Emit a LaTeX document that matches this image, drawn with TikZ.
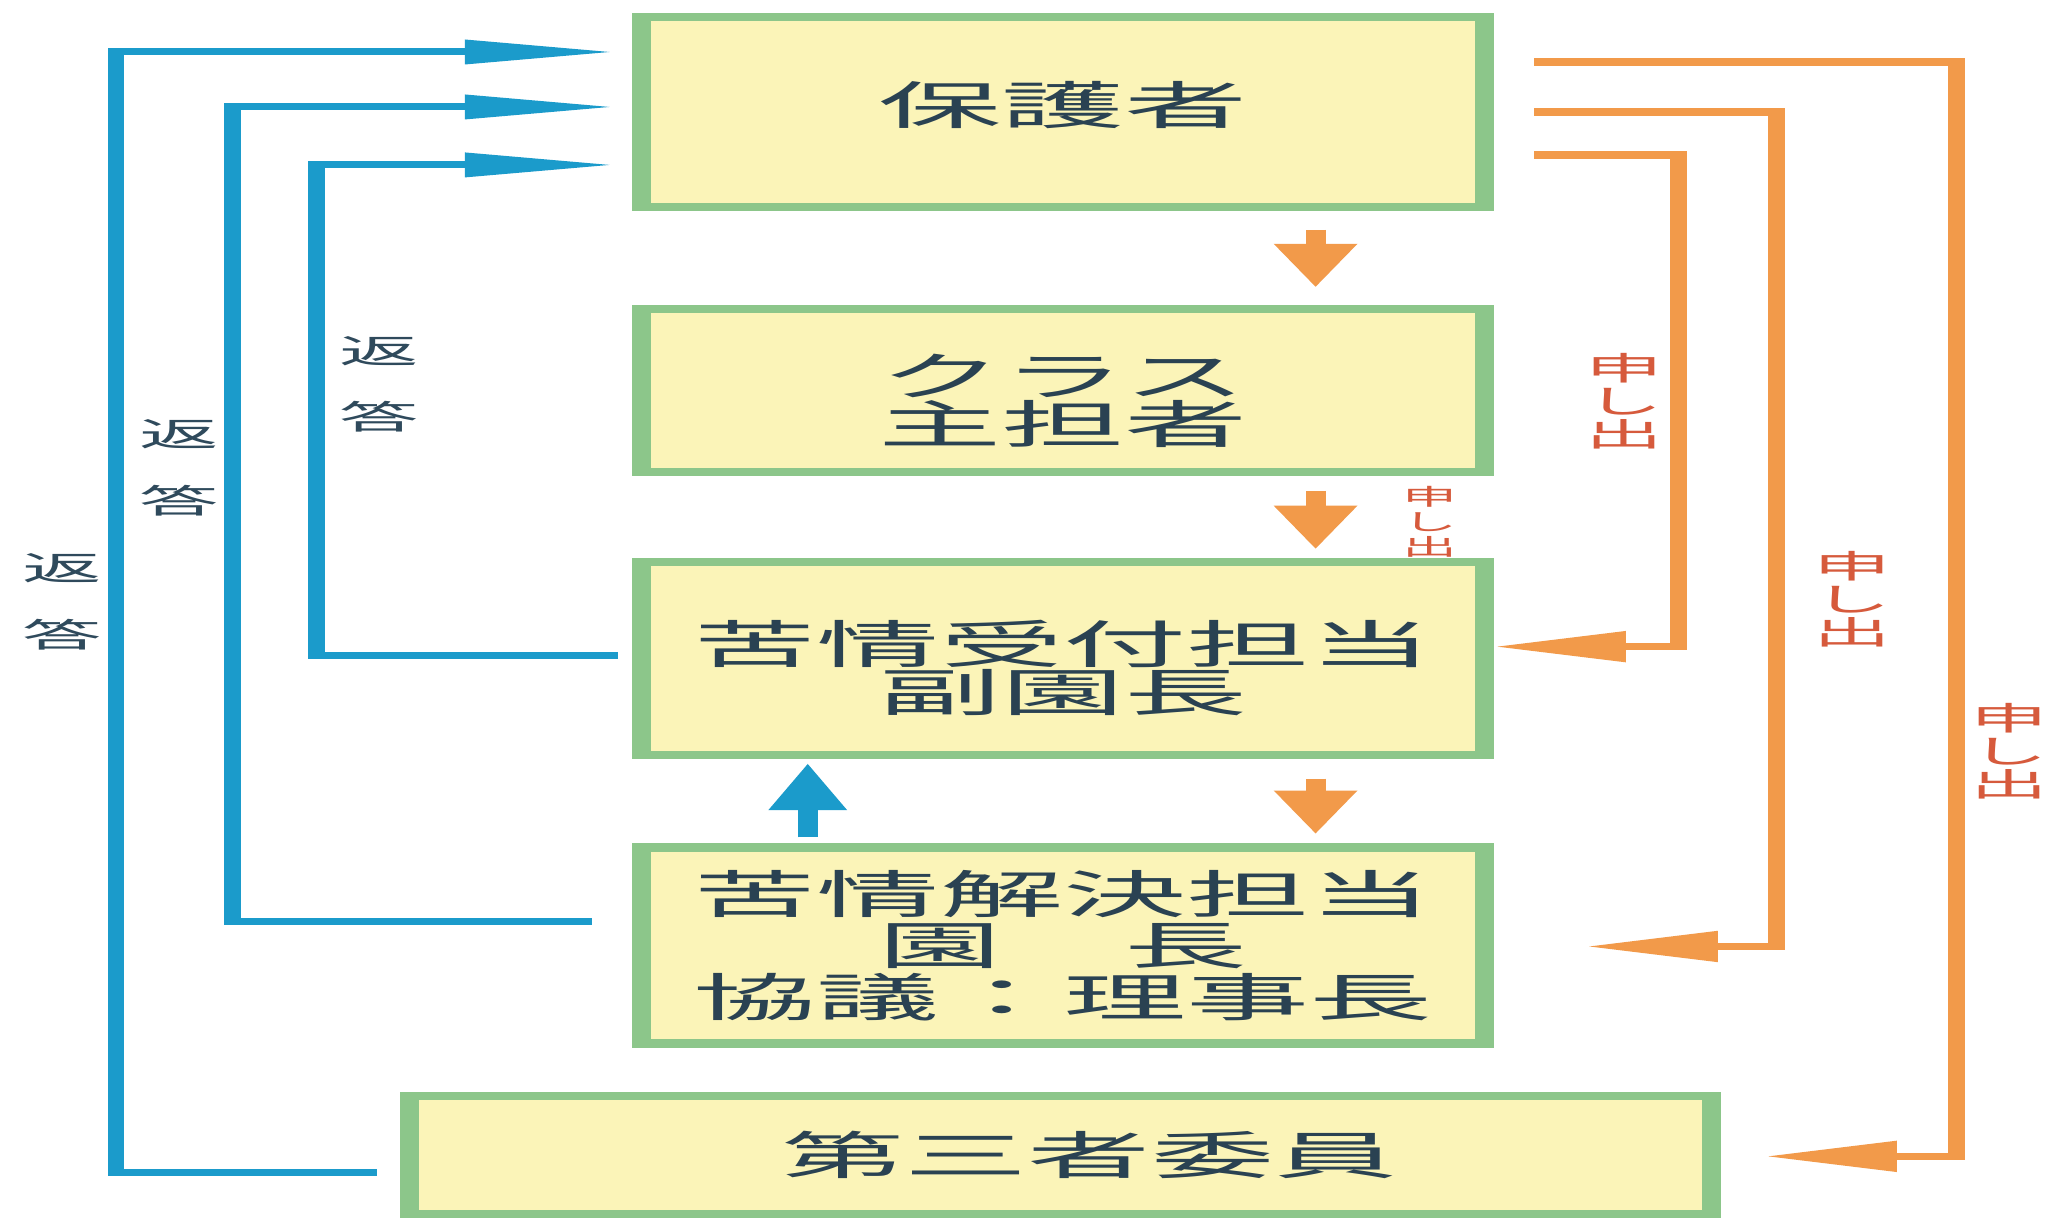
\documentclass[tikz,border=0pt]{standalone}
\usepackage{fontspec}
\newfontfamily\jp{Noto Sans CJK JP}
\usetikzlibrary{arrows.meta,calc}
\definecolor{boxfill}{HTML}{FBF4B8}
\definecolor{boxline}{HTML}{8CC68A}
\definecolor{bl}{HTML}{1B9BCB}
\definecolor{og}{HTML}{F29A4A}
\definecolor{txt}{HTML}{2A4252}
\definecolor{lbl}{HTML}{2F4A5C}
\definecolor{mred}{HTML}{D65A3C}
\tikzset{
  box/.style={draw=boxline, fill=boxfill, line width=2.3pt, inner sep=0pt, align=center, text=txt,
    font={\jp\fontsize{14.6pt}{14.6pt}\selectfont\lineskiplimit=-20pt}},
  rlabel/.style={align=center, text=lbl, inner sep=0pt,
    font={\jp\fontsize{9.4pt}{19pt}\selectfont\lineskiplimit=-20pt}},
  mlabel/.style={align=center, text=mred, inner sep=0pt,
    font={\jp\fontsize{9.2pt}{9.4pt}\selectfont\lineskiplimit=-20pt}},
  smlabel/.style={align=center, text=mred, inner sep=0pt,
    font={\jp\fontsize{6.5pt}{7pt}\selectfont\lineskiplimit=-20pt}},
  bline/.style={draw=bl, line width=2pt, -{Triangle[length=17.8pt,width=6.5pt]}},
  oline/.style={draw=og, line width=2.1pt, -{Triangle[length=15.6pt,width=8.3pt]}},
  odown/.style={draw=og, line width=2.37pt, -{Triangle[length=12.5pt,width=9.2pt]}},
  bup/.style={draw=bl, line width=2.37pt, -{Triangle[length=13.5pt,width=8.6pt]}},
}
\begin{document}
\begin{tikzpicture}
\path[use as bounding box, fill=white] (0,0) rectangle (20.61,-12.17);
\begin{scope}[transform canvas={xscale=2.4}, x={(0.0041666667cm,0)}, y={(0,-0.01cm)}]
  % boxes
  \node[box, minimum width=3.5125cm, minimum height=1.90cm] (b1) at (1063.5,112) {保護者\rule[-5pt]{0pt}{5pt}};
  \node[box, minimum width=3.5125cm, minimum height=1.63cm,
        font={\jp\fontsize{14.6pt}{13.6pt}\selectfont\lineskiplimit=-20pt}] (b2) at (1063.5,390.5) {\rule{0pt}{18pt}クラス\\主担者};
  \node[box, minimum width=3.5125cm, minimum height=1.93cm,
        font={\jp\fontsize{14.6pt}{13.6pt}\selectfont\lineskiplimit=-20pt}] (b3) at (1063.5,658.5) {\rule{0pt}{18pt}苦情受付担当\\副園長};
  \node[box, minimum width=3.5125cm, minimum height=1.96cm] (b4) at (1063.5,946) {苦情解決担当\\園　長\\協議：理事長};
  \node[box, minimum width=5.425cm, minimum height=1.18cm] (b5) at (1061,1156) {\hspace*{0.24cm}第三者委員};

  % corner coordinates
  \coordinate (k1) at (116,52);
  \coordinate (k2) at (233,107);
  \coordinate (k3) at (317,165);
  \coordinate (kA) at (1679,647);
  \coordinate (kB) at (1777,947);
  \coordinate (kC) at (1957,1157);
  \coordinate (xo) at (1316,0);
  \coordinate (xb) at (808,0);

  % blue reply lines
  \draw[bline] ($(b5.west)+(-23,17)$) -| (k1) -- ($(b1.west)+(-17,-60)$);
  \draw[bline] ($(b4.west)+(-40,-24)$) -| (k2) -- ($(b1.west)+(-17,-5)$);
  \draw[bline] ($(b3.west)+(-14,-3)$) -| (k3) -- ($(b1.west)+(-17,53)$);

  % orange request lines
  \draw[oline] ($(b1.east)+(40,43)$) -| (kA) -- ($(b3.east)+(0,-11.5)$);
  \draw[oline] ($(b1.east)+(40,0)$) -| (kB) -- ($(b4.east)+(92,1)$);
  \draw[oline] ($(b1.east)+(40,-50)$) -| (kC) -- ($(b5.east)+(44,1)$);

  % short vertical arrows
  \draw[odown, shorten <=0.19cm, shorten >=0.17cm] (b1.south -| xo) -- (b2.north -| xo);
  \draw[odown, shorten <=0.15cm, shorten >=0.08cm] (b2.south -| xo) -- (b3.north -| xo);
  \draw[odown, shorten <=0.20cm, shorten >=0.09cm] (b3.south -| xo) -- (b4.north -| xo);
  \draw[bup, shorten <=0.06cm, shorten >=0.04cm] (b4.north -| xb) -- (b3.south -| xb);

  % labels
  \node[rlabel] (r1) at (379,384.5) {返\\答};
  \node[rlabel] (r2) at (179,468) {返\\答};
  \node[rlabel] (r3) at (62,602) {返\\答};
  \node[smlabel] (m0) at (1430,522) {申\\し\\出};
  \node[mlabel] (m1) at (1625,401) {申\\し\\出};
  \node[mlabel] (m2) at (1853,600) {申\\し\\出};
  \node[mlabel] (m3) at (2010,752) {申\\し\\出};
\end{scope}
\end{tikzpicture}
\end{document}
